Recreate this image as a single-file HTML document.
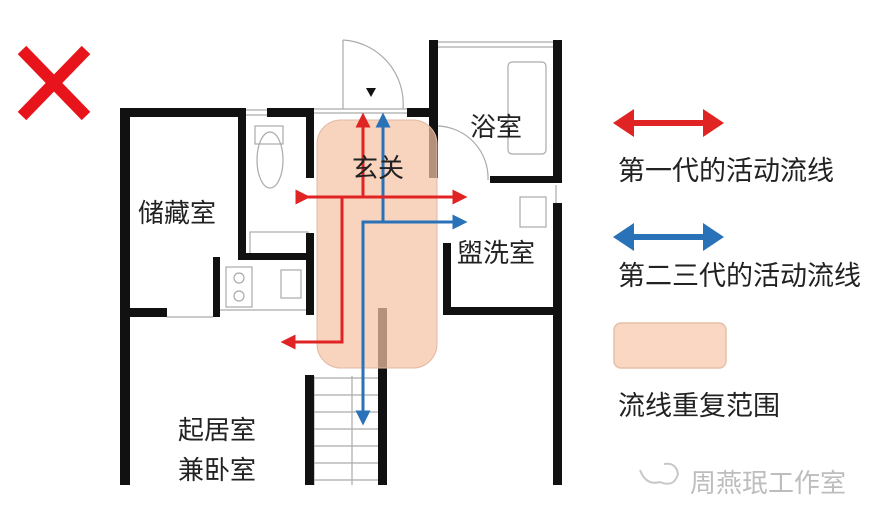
<!DOCTYPE html>
<html><head><meta charset="utf-8"><style>
html,body{margin:0;padding:0;background:#fff;}
svg{display:block;}
text{font-family:"Liberation Sans","Noto Sans CJK SC",sans-serif;fill:#222;}
</style></head><body>
<svg width="882" height="526" viewBox="0 0 882 526" xmlns="http://www.w3.org/2000/svg">
<defs>
<marker id="ar" markerWidth="5" markerHeight="5" refX="2.5" refY="2.5" orient="auto" markerUnits="strokeWidth"><path d="M0,0 L5,2.5 L0,5 z" fill="#e02424"/></marker>
<marker id="ab" markerWidth="5" markerHeight="5" refX="2.5" refY="2.5" orient="auto" markerUnits="strokeWidth"><path d="M0,0 L5,2.5 L0,5 z" fill="#2a72b8"/></marker>
</defs>
<line x1="22" y1="50" x2="86" y2="116" stroke="#e8141c" stroke-width="12"/>
<line x1="86" y1="50" x2="22" y2="116" stroke="#e8141c" stroke-width="12"/>

<g stroke="#aaa" stroke-width="1.2" fill="none">
<line x1="245" y1="110" x2="267" y2="110"/><line x1="245" y1="115" x2="267" y2="115"/>
<line x1="313" y1="109" x2="407" y2="109"/><line x1="313" y1="113" x2="407" y2="113"/>
<path d="M343,40 L343,109"/>
<path d="M343,40 A64,64 0 0 1 403,109"/>
<line x1="438" y1="42" x2="556" y2="42"/><line x1="438" y1="47" x2="556" y2="47"/>
<rect x="508" y="62" width="38" height="92" rx="4"/>
<path d="M438,126 A52,52 0 0 1 488,180"/>
<ellipse cx="270" cy="160" rx="13" ry="28"/>
<rect x="255" y="126" width="28" height="18"/>
<rect x="250" y="232" width="58" height="22"/>
<rect x="226" y="267" width="26" height="40"/><circle cx="239" cy="278" r="5"/><circle cx="239" cy="296" r="5"/>
<rect x="281" y="270" width="20" height="28"/>
<line x1="220" y1="310" x2="307" y2="310"/>
<line x1="167" y1="317" x2="213" y2="317"/>
<rect x="520" y="197" width="26" height="30"/>
<line x1="556" y1="185" x2="556" y2="203"/>
<line x1="314" y1="376" x2="314" y2="485"/>
<line x1="352" y1="376" x2="352" y2="485"/>
</g>
<g stroke="#aaa" stroke-width="1.2">
<line x1="314" y1="378" x2="378" y2="378"/><line x1="314" y1="395" x2="378" y2="395"/>
<line x1="314" y1="412" x2="378" y2="412"/><line x1="314" y1="429" x2="378" y2="429"/>
<line x1="314" y1="446" x2="378" y2="446"/><line x1="314" y1="463" x2="378" y2="463"/>
<line x1="314" y1="480" x2="378" y2="480"/>
</g>

<g fill="#111">
<rect x="120" y="108" width="10" height="377"/>
<rect x="120" y="108" width="125" height="9"/>
<rect x="238" y="108" width="8" height="152"/>
<rect x="238" y="253" width="70" height="7"/>
<rect x="213" y="257" width="7" height="60"/>
<rect x="120" y="308" width="47" height="9"/>
<rect x="267" y="108" width="46" height="9"/>
<rect x="306" y="108" width="8" height="70"/>
<rect x="306" y="233" width="8" height="82"/>
<rect x="407" y="108" width="31" height="9"/>
<rect x="429" y="40" width="9" height="138"/>
<rect x="553" y="40" width="9" height="143"/>
<rect x="490" y="176" width="72" height="7"/>
<rect x="553" y="203" width="9" height="282"/>
<rect x="443" y="243" width="8" height="72"/>
<rect x="443" y="307" width="119" height="8"/>
<rect x="305" y="375" width="9" height="110"/>
<rect x="378" y="308" width="9" height="177"/>
</g>

<rect x="317" y="120" width="120" height="248" rx="24" fill="#f5c4a6" fill-opacity="0.72" stroke="#e0b8a0" stroke-width="1"/>

<g stroke-width="3" fill="none">
<path d="M383,222 L383,120" stroke="#2a72b8" marker-end="url(#ab)"/>
<path d="M383,222 L363,222 L363,418" stroke="#2a72b8" marker-end="url(#ab)"/>
<path d="M363,222 L460,222" stroke="#2a72b8" marker-end="url(#ab)"/>
<path d="M303,197 L460,197" stroke="#e02424" marker-start="url(#ar)" marker-end="url(#ar)"/>
<path d="M363,197 L363,120" stroke="#e02424" marker-end="url(#ar)"/>
<path d="M342,197 L342,342 L288,342" stroke="#e02424" marker-end="url(#ar)"/>
</g>
<polygon points="366,88 376,88 371,97" fill="#111"/>

<g font-size="26">
<text x="138" y="222">储藏室</text>
<text x="352" y="177">玄关</text>
<text x="470" y="136">浴室</text>
<text x="457" y="262">盥洗室</text>
<text x="178" y="439">起居室</text>
<text x="178" y="479">兼卧室</text>
</g>

<line x1="630" y1="123" x2="708" y2="123" stroke="#e02424" stroke-width="6"/>
<polygon points="613,123 634,109 634,137" fill="#e02424"/>
<polygon points="724,123 703,109 703,137" fill="#e02424"/>
<line x1="630" y1="237" x2="708" y2="237" stroke="#2a72b8" stroke-width="6"/>
<polygon points="613,237 634,223 634,251" fill="#2a72b8"/>
<polygon points="724,237 703,223 703,251" fill="#2a72b8"/>
<rect x="614" y="323" width="112" height="45" rx="7" fill="#fad7c2" stroke="#e6c0a8" stroke-width="1.5"/>
<g font-size="27">
<text x="618" y="180">第一代的活动流线</text>
<text x="618" y="285">第二三代的活动流线</text>
<text x="618" y="415">流线重复范围</text>
</g>
<g stroke="#c8c8c8" stroke-width="2" fill="none">
<path d="M640,470 q6,16 20,12 q14,6 18,-8 q-2,-12 -14,-10"/>
</g>
<text x="690" y="492" font-size="26" style="fill:#bdbdbd">周燕珉工作室</text>
</svg>
</body></html>
